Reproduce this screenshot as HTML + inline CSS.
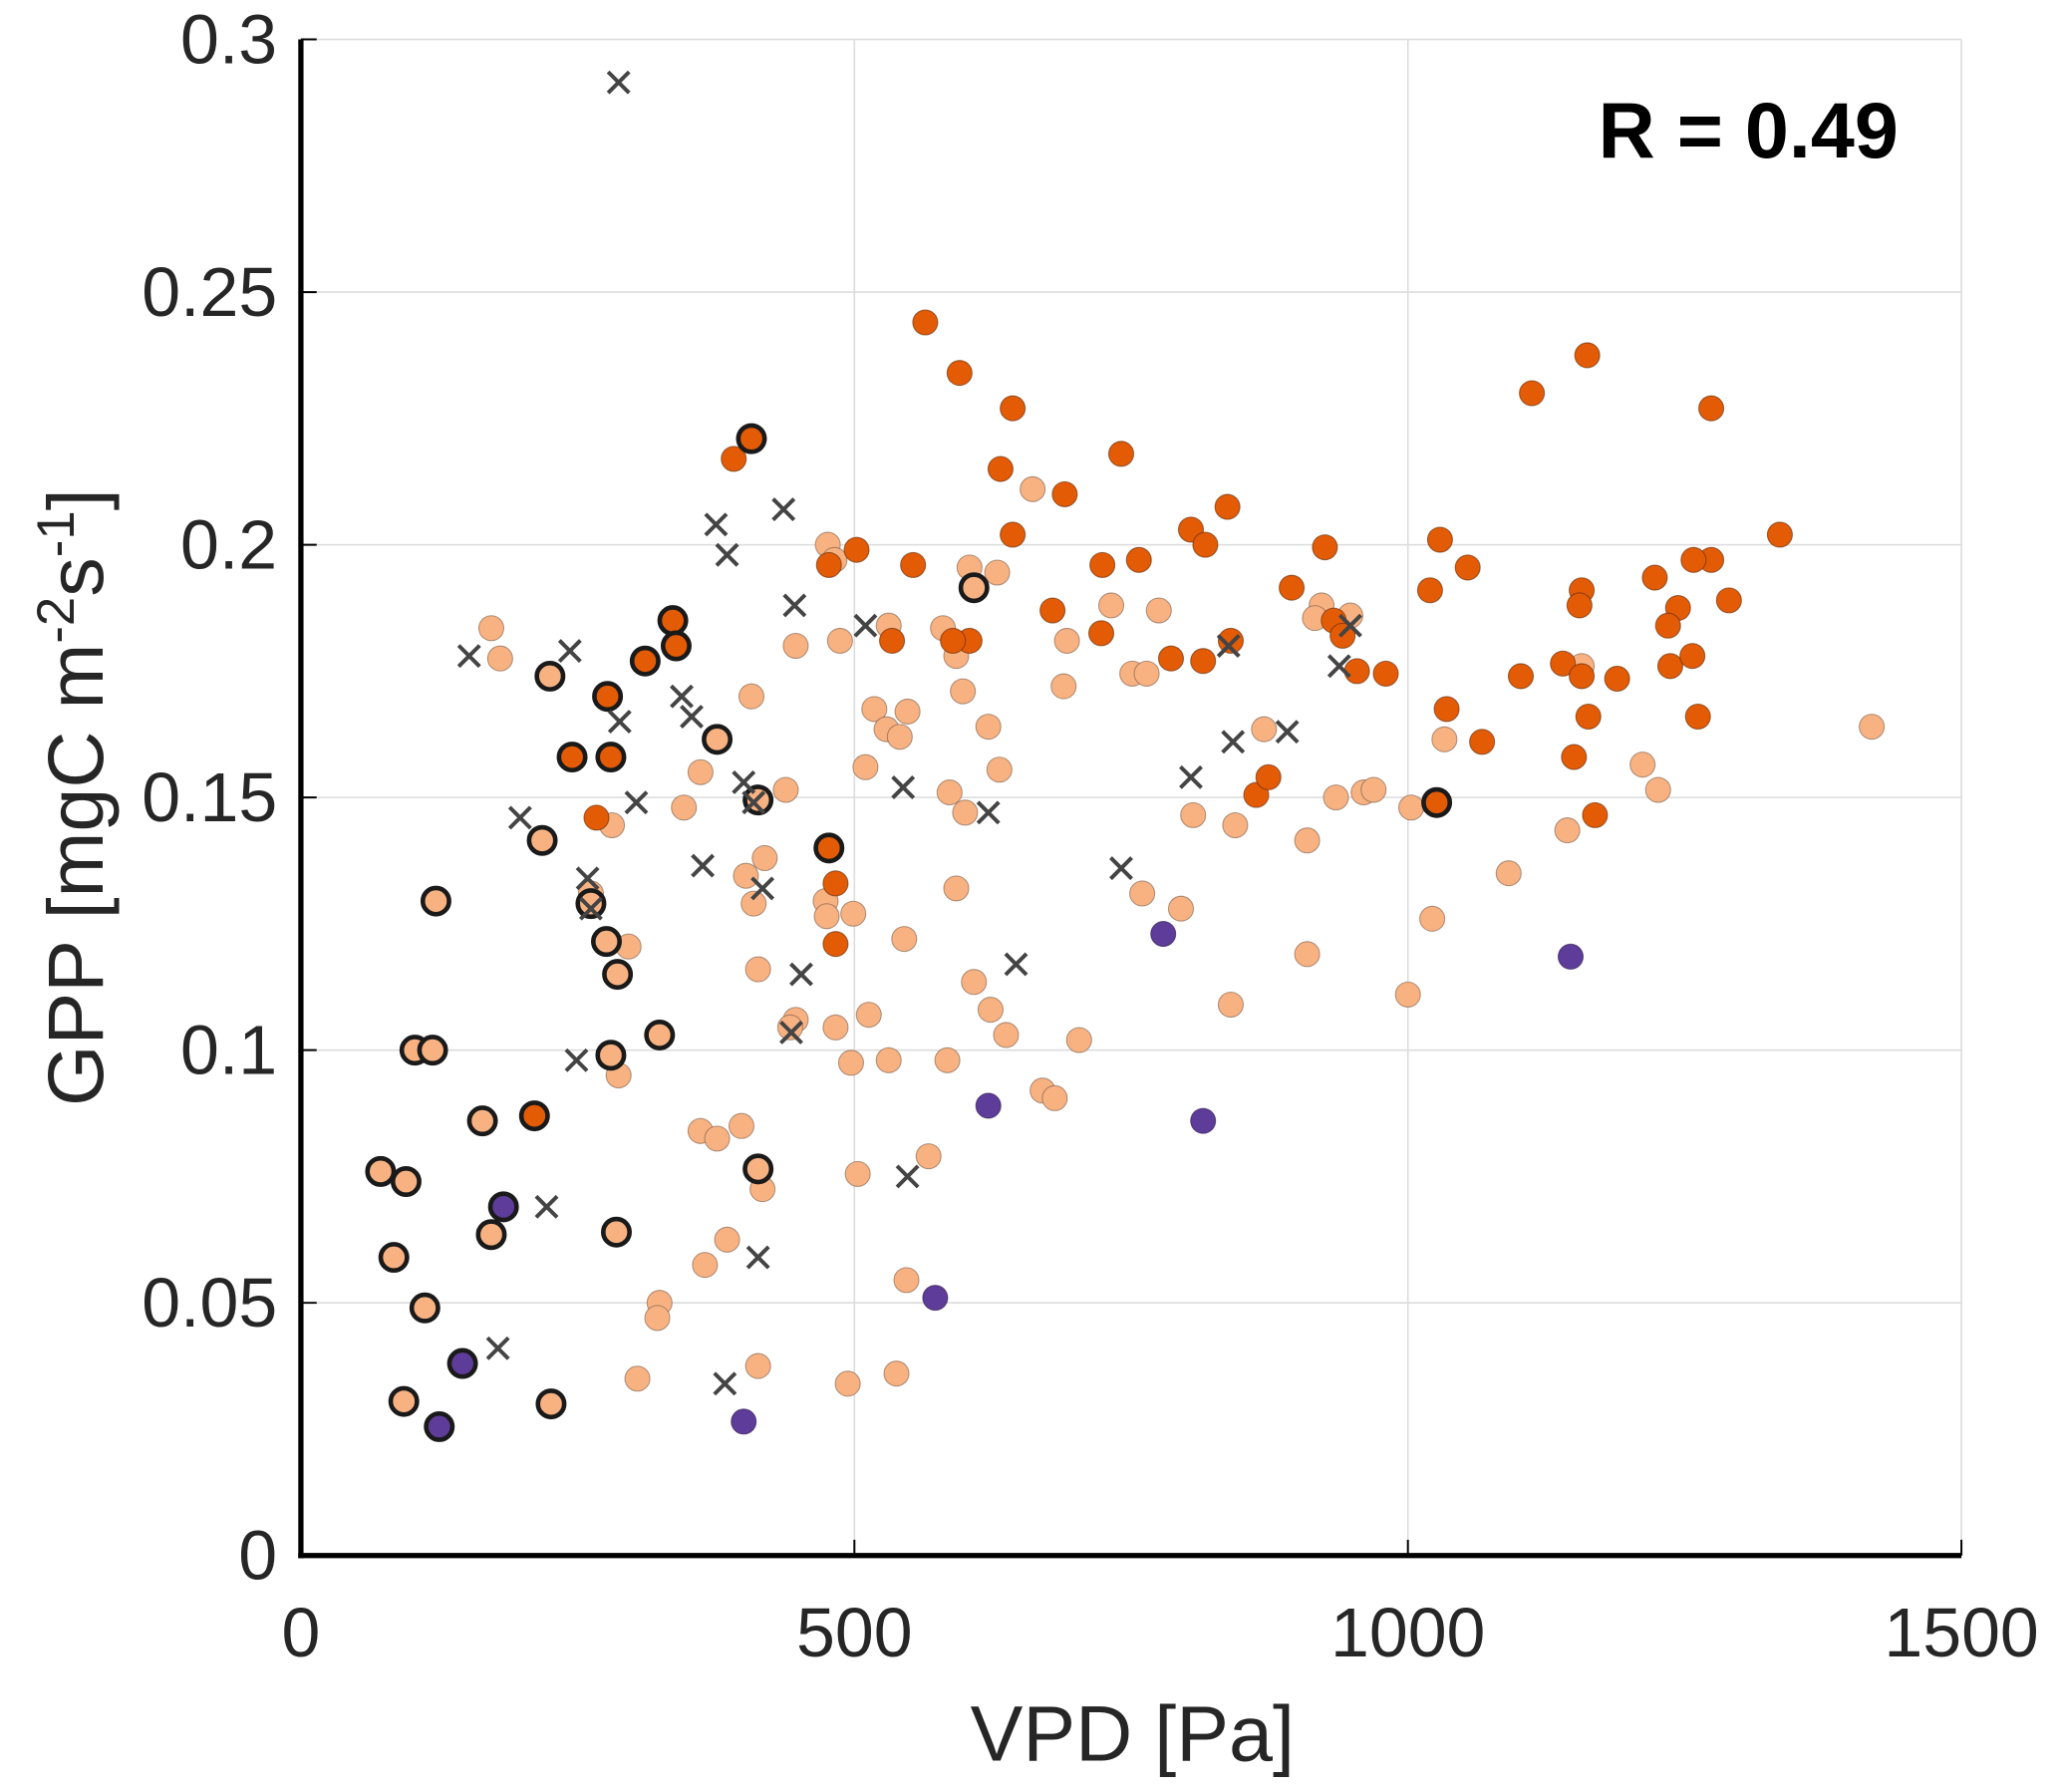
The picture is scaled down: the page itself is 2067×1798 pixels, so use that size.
<!DOCTYPE html>
<html><head><meta charset="utf-8"><style>
html,body{margin:0;padding:0;background:#fff;}
svg{display:block;}
text{font-family:"Liberation Sans",sans-serif;fill:#262626;}
</style></head><body>
<svg id="chart" width="2067" height="1798" viewBox="0 0 1568 1364" xmlns="http://www.w3.org/2000/svg">
<g id="grid"></g>
<g id="marks"></g>
<g id="axes"></g>
<text x="862" y="1340" font-size="60" text-anchor="middle">VPD [Pa]</text>
<text transform="translate(78,607) rotate(-90)" font-size="60" text-anchor="middle">GPP [mgC m<tspan font-size="40" dy="-22">-2</tspan><tspan dy="22">s</tspan><tspan font-size="40" dy="-22">-1</tspan><tspan dy="22">]</tspan></text>
<text x="1445" y="120" font-size="60" font-weight="bold" text-anchor="end" style="fill:#000">R = 0.49</text>
</svg>
<script>
const xTicks=[0,500,1000,1500];
const yTicks=[0,0.05,0.1,0.15,0.2,0.25,0.3];
const yTickLabels=["0","0.05","0.1","0.15","0.2","0.25","0.3"];
const crossVPD=[287,375,436,385,446,510,152,243,288,344,353,303,198,400,409,544,363,259,262,417,452,443,249,222,413,548,178,383,621,646,741,804,842,838,891,938,948];
const crossGPP=[0.2915,0.204,0.207,0.198,0.188,0.184,0.178,0.179,0.165,0.170,0.166,0.149,0.146,0.153,0.149,0.152,0.1365,0.134,0.128,0.132,0.115,0.1035,0.098,0.069,0.059,0.075,0.041,0.034,0.147,0.117,0.136,0.154,0.161,0.180,0.163,0.176,0.184];
const lightVPD=[172,180,476,482,447,487,531,518,529,541,548,407,361,438,346,510,580,592,598,604,629,621,631,661,732,692,689,751,764,775,586,600,806,844,870,922,916,948,935,960,969,1003,909,1091,1144,1157,1212,1226,1419,1033,1022,1000,909,795,760,840,703,670,681,637,623,608,592,584,545,531,513,499,474,475,483,497,409,402,419,413,447,442,398,361,376,385,365,417,503,567,547,324,322,304,413,494,538,281,296,287,262];
const lightGPP=[0.1835,0.1775,0.200,0.197,0.180,0.181,0.184,0.1675,0.1635,0.162,0.167,0.170,0.155,0.1515,0.148,0.156,0.1835,0.178,0.171,0.1955,0.1945,0.164,0.1555,0.211,0.188,0.181,0.172,0.1745,0.1745,0.187,0.151,0.147,0.1465,0.1445,0.1635,0.188,0.1855,0.186,0.150,0.151,0.1515,0.148,0.1415,0.135,0.1435,0.176,0.1565,0.1515,0.164,0.1615,0.126,0.111,0.119,0.128,0.131,0.109,0.102,0.092,0.0905,0.103,0.108,0.1135,0.132,0.098,0.122,0.098,0.107,0.127,0.1295,0.1265,0.1045,0.0975,0.129,0.1345,0.138,0.116,0.106,0.1045,0.085,0.084,0.0825,0.0625,0.0575,0.0725,0.0755,0.079,0.0545,0.050,0.047,0.035,0.0375,0.034,0.036,0.1445,0.1205,0.095,0.131];
const darkVPD=[564,595,643,391,632,741,690,643,502,553,724,757,837,804,817,895,925,477,534,604,589,679,723,786,815,840,933,941,954,980,1020,1029,1054,1035,1067,1102,1112,1162,1274,1336,1290,1274,1258,1223,1244,1235,1237,1257,1262,1157,1155,1140,1157,1189,1163,1150,1169,863,874,267,483,483];
const darkGPP=[0.244,0.234,0.227,0.217,0.215,0.218,0.210,0.202,0.199,0.196,0.196,0.197,0.2075,0.203,0.200,0.1915,0.1995,0.196,0.181,0.181,0.181,0.187,0.1825,0.1775,0.177,0.181,0.185,0.182,0.175,0.1745,0.191,0.201,0.1955,0.1675,0.161,0.174,0.230,0.2375,0.227,0.202,0.189,0.197,0.197,0.1935,0.1875,0.184,0.176,0.178,0.166,0.191,0.188,0.1765,0.174,0.1735,0.166,0.158,0.1465,0.1505,0.154,0.146,0.121,0.133];
const purpleVPD=[779,621,815,573,400,1147];
const purpleGPP=[0.123,0.089,0.086,0.051,0.0265,0.1185];
const darkEdgeVPD=[407,336,339,311,277,245,280,477,211,1026];
const darkEdgeGPP=[0.221,0.185,0.180,0.177,0.170,0.158,0.158,0.140,0.087,0.149];
const lightEdgeVPD=[608,225,376,413,218,122,262,276,286,324,280,103,119,164,72,95,84,172,285,112,413,226,93];
const lightEdgeGPP=[0.1915,0.174,0.1615,0.1495,0.1415,0.1295,0.129,0.1215,0.115,0.103,0.099,0.100,0.100,0.086,0.076,0.074,0.059,0.0635,0.064,0.049,0.0765,0.030,0.0305];
const purpleEdgeVPD=[183,146,125];
const purpleEdgeGPP=[0.069,0.038,0.0255];

const X0=229,X1=1493,Y0=1184,Y1=30;
function sx(v){return X0+(v/1500)*(X1-X0);}
function sy(v){return Y0-(v/0.3)*(Y0-Y1);}
const NS="http://www.w3.org/2000/svg";
function mk(tag,parent,attrs){const e=document.createElementNS(NS,tag);for(const k in attrs)e.setAttribute(k,attrs[k]);parent.appendChild(e);return e;}
const grid=document.getElementById('grid'),marks=document.getElementById('marks'),axes=document.getElementById('axes');
xTicks.forEach((t,i)=>{
  if(t>0){const g=mk('line',grid,{x1:sx(t),x2:sx(t),y1:Y1,y2:Y0,stroke:'#dcdcdc','stroke-width':1.2});
  
  
  const tk=mk('line',axes,{x1:sx(t),x2:sx(t),y1:Y0,y2:Y0-12,stroke:'#000','stroke-width':1.5});
  
  }
  const l=mk('text',axes,{x:sx(t),y:1261,'font-size':53,'text-anchor':'middle'});l.textContent=t;
  
  
});
yTicks.forEach((t,i)=>{
  if(t>0){const g=mk('line',grid,{x1:X0,x2:X1,y1:sy(t),y2:sy(t),stroke:'#dcdcdc','stroke-width':1.2});
  
  
  const tk=mk('line',axes,{x1:X0,x2:X0+12,y1:sy(t),y2:sy(t),stroke:'#000','stroke-width':1.5});
  
  }
  const l=mk('text',axes,{x:211,y:sy(t)+18,'font-size':53,'text-anchor':'end'});l.textContent=yTickLabels[i];
  
  
});
const ya=mk('line',axes,{x1:X0,x2:X0,y1:Y1,y2:Y0+2,stroke:'#000','stroke-width':4});


const xa=mk('line',axes,{x1:X0-2,x2:X1,y1:Y0,y2:Y0,stroke:'#000','stroke-width':4});



function dots(vx,vy,fill,stroke,sw,name){
  vx.forEach((v,i)=>{const c=mk('circle',marks,{cx:sx(v),cy:sy(vy[i]),r:sw>2?10:9.5,fill:fill,stroke:stroke,'stroke-width':sw});
  
  });
}
dots(lightVPD,lightGPP,'#f8b282','rgba(110,80,60,0.55)',0.8,'light-orange-point');
dots(darkVPD,darkGPP,'#e35b05','rgba(90,40,10,0.6)',0.8,'dark-orange-point');
dots(purpleVPD,purpleGPP,'#5e3c99','rgba(40,20,70,0.6)',0.8,'purple-point');
dots(lightEdgeVPD,lightEdgeGPP,'#f8b282','#1a1a1a',3.5,'light-orange-outlined-point');
dots(darkEdgeVPD,darkEdgeGPP,'#e35b05','#1a1a1a',3.5,'dark-orange-outlined-point');
dots(purpleEdgeVPD,purpleEdgeGPP,'#5e3c99','#1a1a1a',3.5,'purple-outlined-point');
crossVPD.forEach((v,i)=>{const x=sx(v),y=sy(crossGPP[i]),d=8;
  const p=mk('path',marks,{d:`M${x-d},${y-d}L${x+d},${y+d}M${x-d},${y+d}L${x+d},${y-d}`,stroke:'#444','stroke-width':3,fill:'none'});
  
  
});
</script>
</body></html>
